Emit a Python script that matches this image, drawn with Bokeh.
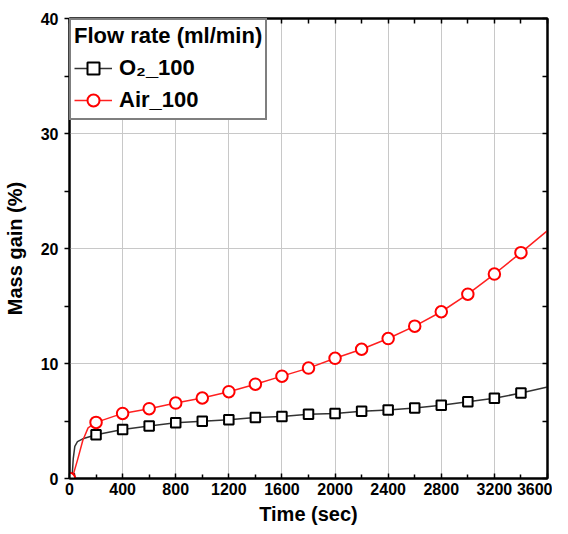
from bokeh.plotting import figure
from bokeh.models import Range1d, FixedTicker, LinearAxis, Legend, LegendItem
from bokeh.embed import file_html
from bokeh.resources import INLINE

# ---- data ----
marker_time = [0, 200, 400, 600, 800, 1000, 1200, 1400, 1600, 1800, 2000,
               2200, 2400, 2600, 2800, 3000, 3200, 3400]
o2_markers = [0, 3.80, 4.27, 4.56, 4.85, 4.97, 5.11, 5.30, 5.40, 5.58, 5.66,
              5.84, 5.95, 6.13, 6.36, 6.68, 6.97, 7.43]
air_markers = [0, 4.88, 5.66, 6.07, 6.56, 7.00, 7.55, 8.20, 8.90, 9.60, 10.45,
               11.24, 12.17, 13.25, 14.50, 16.03, 17.78, 19.64]

o2_line_time = [0, 20, 28, 40, 60, 100, 200, 400, 600, 800, 1000, 1200, 1400,
                1600, 1800, 2000, 2200, 2400, 2600, 2800, 3000, 3200, 3400, 3600]
o2_line = [0, 0.2, 1.7, 2.8, 3.2, 3.45, 3.80, 4.27, 4.56, 4.85, 4.97, 5.11, 5.30,
           5.40, 5.58, 5.66, 5.84, 5.95, 6.13, 6.36, 6.68, 6.97, 7.43, 7.96]

air_line_time = [0, 30, 60, 100, 140, 200, 400, 600, 800, 1000, 1200, 1400,
                 1600, 1800, 2000, 2200, 2400, 2600, 2800, 3000, 3200, 3400, 3600]
air_line = [0, 0.4, 1.6, 3.3, 4.4, 4.88, 5.66, 6.07, 6.56, 7.00, 7.55, 8.20,
            8.90, 9.60, 10.45, 11.24, 12.17, 13.25, 14.50, 16.03, 17.78, 19.64, 21.55]

x_ticks = [0, 400, 800, 1200, 1600, 2000, 2400, 2800, 3200, 3600]
x_minor = [200, 600, 1000, 1400, 1800, 2200, 2600, 3000, 3400]
y_ticks = [0, 10, 20, 30, 40]
y_minor = [5, 15, 25, 35]

FONT = "Liberation Sans"

p = figure(width=552, height=530, output_backend="svg", toolbar_location=None,
           x_range=Range1d(0, 3600), y_range=Range1d(0, 40),
           min_border_left=60, min_border_right=5, min_border_top=18,
           min_border_bottom=52)

p.outline_line_color = "black"
p.outline_line_width = 2

# grid
p.xgrid.ticker = FixedTicker(ticks=x_ticks)
p.ygrid.ticker = FixedTicker(ticks=y_ticks)
for g in (p.xgrid, p.ygrid):
    g.grid_line_color = "#c8c8c8"
    g.grid_line_width = 1

# bottom axis
xa = p.xaxis[0]
xa.ticker = FixedTicker(ticks=x_ticks, minor_ticks=x_minor)
xa.axis_label = "Time (sec)"
xa.major_tick_in = 5
xa.major_tick_out = 0
xa.minor_tick_in = 4
xa.minor_tick_out = 0
xa.major_label_standoff = 4
xa.axis_label_standoff = 5

# left axis
ya = p.yaxis[0]
ya.ticker = FixedTicker(ticks=y_ticks, minor_ticks=y_minor)
ya.axis_label = "Mass gain (%)"
ya.major_tick_in = 0
ya.major_tick_out = 5
ya.minor_tick_in = 0
ya.minor_tick_out = 5
ya.major_label_standoff = 6
ya.axis_label_standoff = 12

for ax in (xa, ya):
    ax.axis_line_color = "black"
    ax.axis_line_width = 2
    ax.major_tick_line_color = "black"
    ax.minor_tick_line_color = "black"
    ax.major_tick_line_width = 1.5
    ax.minor_tick_line_width = 1.5
    ax.major_label_text_font = FONT
    ax.major_label_text_font_style = "bold"
    ax.major_label_text_font_size = "16px"
    ax.major_label_text_color = "black"
    ax.axis_label_text_font = FONT
    ax.axis_label_text_font_style = "bold"
    ax.axis_label_text_font_size = "20px"
    ax.axis_label_text_color = "black"

# right and top axes (ticks only, drawn as minor ticks so no labels)
ra = LinearAxis(ticker=FixedTicker(ticks=[], minor_ticks=y_ticks + y_minor))
ta = LinearAxis(ticker=FixedTicker(ticks=[], minor_ticks=x_ticks + x_minor))
for ax in (ra, ta):
    ax.minor_tick_in = 5
    ax.minor_tick_out = 0
    ax.major_tick_in = 0
    ax.major_tick_out = 0
    ax.axis_line_color = "black"
    ax.axis_line_width = 2
    ax.minor_tick_line_color = "black"
    ax.minor_tick_line_width = 1.5
p.add_layout(ra, "right")
p.add_layout(ta, "above")

# series
l1 = p.line(o2_line_time, o2_line, line_color="#333333", line_width=1.5)
s1 = p.scatter(marker_time, o2_markers, marker="square", size=9.5,
               fill_color="white", line_color="black", line_width=2)
l2 = p.line(air_line_time, air_line, line_color="#ff2020", line_width=1.5)
s2 = p.scatter(marker_time, air_markers, marker="circle", size=11.5,
               fill_color="white", line_color="#ff0000", line_width=2)

legend = Legend(items=[LegendItem(label="O₂_100", renderers=[l1, s1]),
                       LegendItem(label="Air_100", renderers=[l2, s2])],
                location="top_left")
legend.title = "Flow rate (ml/min)"
legend.title_text_font = FONT
legend.title_text_font_style = "bold"
legend.title_text_font_size = "22px"
legend.title_text_color = "black"
legend.title_standoff = 4
legend.label_text_font = FONT
legend.label_text_font_style = "bold"
legend.label_text_font_size = "22px"
legend.label_text_color = "black"
legend.border_line_color = "black"
legend.border_line_width = 2
legend.background_fill_color = "white"
legend.background_fill_alpha = 1
legend.margin = 0
legend.padding = 3
legend.spacing = 2
legend.glyph_width = 38
legend.glyph_height = 30
legend.label_height = 30
legend.label_standoff = 7
p.add_layout(legend)

open("out.html", "w").write(file_html(p, INLINE))
